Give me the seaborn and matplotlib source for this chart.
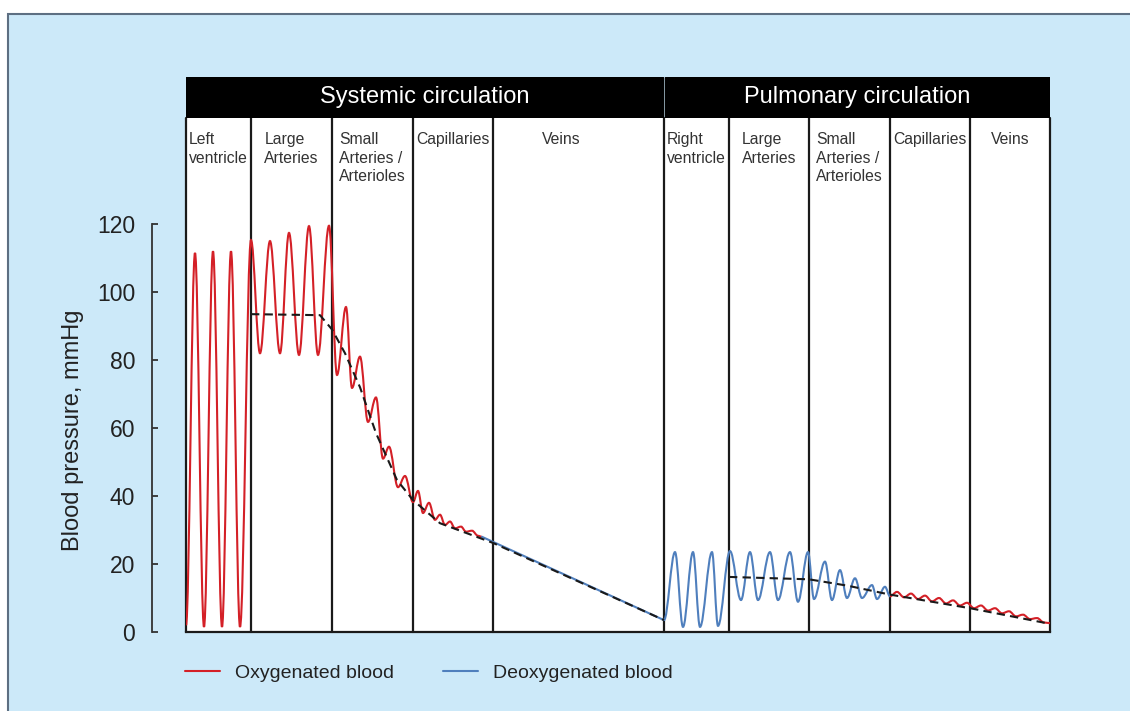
import matplotlib
matplotlib.use('Agg')
import matplotlib.pyplot as plt
import seaborn as sns
import pandas as pd
from matplotlib.path import Path
from matplotlib.patches import PathPatch, Rectangle
from matplotlib.lines import Line2D

# ---- data (position along the circuit, pressure in mmHg) ----
section_edges = [0, 65, 146, 227, 307, 478, 543, 623, 704, 784, 864]
section_names = ['Left\nventricle', 'Large\nArteries', 'Small\nArteries /\nArterioles',
                 'Capillaries', 'Veins', 'Right\nventricle', 'Large\nArteries',
                 'Small\nArteries /\nArterioles', 'Capillaries', 'Veins']
circulations = ['Systemic circulation', 'Pulmonary circulation']

# systemic pressure wave, peaks and troughs (oxygenated)
sys_wave_x = [0, 9, 18, 27, 36, 45, 54, 65, 74, 84, 94, 103, 113, 123, 132, 143,
              151, 160, 166, 174, 182, 190, 197, 203, 212, 219, 227, 232, 237, 243,
              249, 254, 259, 264, 269, 275, 280, 286, 292, 296]
sys_wave_y = [2, 111.5, 1.5, 112, 1.5, 112, 1.5, 115.3, 82, 115, 82, 117.4, 81.5, 119.4, 81.5, 119.5,
              75.6, 95.6, 71.8, 81, 61.8, 69, 51, 54.5, 42.6, 45.9, 38.2, 41.5, 35, 38,
              33, 34.5, 31.5, 32.5, 30.5, 31, 29.5, 29.8, 28.3, 28.0]

# systemic veins (deoxygenated)
sys_vein_x = [296, 478]
sys_vein_y = [28.0, 3.5]

# pulmonary pressure wave (deoxygenated)
pul_wave_x = [478, 489, 497, 507, 514, 526, 532, 544, 555, 564, 572, 584, 592, 604, 612, 622,
              628, 639, 646, 654, 661, 669, 676, 686, 691, 699, 704]
pul_wave_y = [3.5, 23.5, 1.5, 23.5, 1.5, 23.5, 1.8, 23.8, 9.4, 23.5, 9.4, 23.5, 9.4, 23.5, 8.9, 23.5,
              9.7, 20.7, 9.4, 18.2, 10, 15.8, 10, 13.8, 9.7, 13.3, 10.5]

# pulmonary capillaries + veins (oxygenated)
pul_tail_x = [704, 711, 718, 725, 732, 739, 746, 753, 760, 767, 774, 781, 788, 795,
              802, 809, 816, 823, 830, 837, 844, 851, 858, 864]
pul_tail_y = [10.5, 11.8, 10.2, 11.3, 9.7, 10.7, 9.0, 10.0, 8.4, 9.3, 7.8, 8.6, 7.0, 7.8,
              6.3, 7.0, 5.5, 6.1, 4.6, 5.1, 3.8, 4.1, 2.8, 2.6]

# mean pressure (dashed)
sys_mean_x = [65, 134, 146, 159, 174, 190, 211, 227, 254, 307, 478]
sys_mean_y = [93.5, 93.2, 89, 82, 72, 58.5, 44.7, 38.8, 32, 26.2, 3.5]
pul_mean_x = [543, 623, 662, 704, 784, 864]
pul_mean_y = [16.2, 15.5, 13.6, 11.0, 7.0, 2.4]

# ---- style ----
RED = '#d42027'
BLUE = '#4f7fbd'
BG = '#cce9f9'
W, H = 1130, 711

sns.set_theme(style='white')
plt.rcParams['font.family'] = ['Liberation Sans', 'DejaVu Sans']


def wave_path(xs, ys):
    # smooth curve through the extrema (flat tangent at each peak / trough)
    verts = [(xs[0], ys[0])]
    codes = [Path.MOVETO]
    for i in range(1, len(xs)):
        dx = xs[i] - xs[i - 1]
        verts += [(xs[i - 1] + dx * 0.364, ys[i - 1]), (xs[i] - dx * 0.364, ys[i]), (xs[i], ys[i])]
        codes += [Path.CURVE4] * 3
    return Path(verts, codes)


fig = plt.figure(figsize=(W / 100, H / 100), dpi=100, facecolor='white')
fig.patches.append(Rectangle((8 / W, -0.05), 1.1, 1 - 14 / H + 0.05, transform=fig.transFigure,
                             facecolor=BG, edgecolor='#5d6f82', lw=1.5, zorder=-10))

ax = fig.add_axes([186 / W, 79 / H, 864 / W, 514 / H])
ax.set_facecolor('white')
ax.set_xlim(0, 864)
ax.set_ylim(0, 151.2)

for e in section_edges:
    ax.axvline(e, color='#1a1a1a', lw=1.6, zorder=1, clip_on=False)

ax.add_patch(PathPatch(wave_path(sys_wave_x, sys_wave_y), fill=False, edgecolor=RED, lw=1.5, zorder=3))
ax.add_patch(PathPatch(wave_path(pul_wave_x, pul_wave_y), fill=False, edgecolor=BLUE, lw=1.5, zorder=3))
ax.add_patch(PathPatch(wave_path(pul_tail_x, pul_tail_y), fill=False, edgecolor=RED, lw=1.5, zorder=3))
sns.lineplot(x=sys_vein_x, y=sys_vein_y, ax=ax, color=BLUE, lw=1.5, zorder=3)

means = pd.DataFrame({'x': sys_mean_x + pul_mean_x, 'y': sys_mean_y + pul_mean_y,
                      'part': ['sys'] * len(sys_mean_x) + ['pul'] * len(pul_mean_x)})
for part, d in means.groupby('part'):
    sns.lineplot(data=d, x='x', y='y', ax=ax, color='#1a1a1a', lw=1.5, zorder=4,
                 linestyle=(0, (4, 2.5)), sort=False)

# section labels
label_offsets = [0, 0, 0, 0, -17, 0, 0, 0, 0, 0]
label_y = 1 - 14 / 514
for i, name in enumerate(section_names):
    left, right = section_edges[i], section_edges[i + 1]
    if 'ventricle' in name:
        ax.text(left + 3, label_y, name, transform=ax.get_xaxis_transform(), ha='left', va='top',
                fontsize=11.3, color='#333333', linespacing=1.3)
    else:
        ax.text((left + right) / 2 + label_offsets[i], label_y, name, transform=ax.get_xaxis_transform(),
                ha='center', va='top', multialignment='left', fontsize=11.3, color='#333333',
                linespacing=1.3)

# axes styling
ax.set_xticks([])
ax.set_xlabel('')
ax.set_ylabel('')
ax.set_yticks([0, 20, 40, 60, 80, 100, 120])
ax.spines['top'].set_visible(False)
ax.spines['right'].set_visible(False)
ax.spines['bottom'].set_color('#1a1a1a')
ax.spines['bottom'].set_linewidth(1.6)
ax.spines['left'].set_position(('outward', 24.5))
ax.spines['left'].set_bounds(0, 120)
ax.spines['left'].set_color('#333333')
ax.spines['left'].set_linewidth(1.3)
ax.tick_params(axis='y', direction='in', length=4.5, width=1.3, pad=12, labelsize=16.5,
               colors='#333333', labelcolor='#222222', left=True)
fig.text(73 / W, 1 - 430 / H, 'Blood pressure, mmHg', rotation=90, ha='center', va='center',
         fontsize=17, color='#222222')

# header bars
hax = fig.add_axes([186 / W, 1 - 118 / H, 864 / W, 41 / H])
hax.set_xlim(0, 864)
hax.set_ylim(0, 1)
hax.axis('off')
hax.axvspan(section_edges[0], section_edges[5] - 0.8, color='black')
hax.axvspan(section_edges[5] + 0.8, section_edges[-1], color='black')
hax.text((section_edges[0] + section_edges[5]) / 2, 0.5, circulations[0], ha='center', va='center',
         color='white', fontsize=17)
hax.text((section_edges[5] + section_edges[-1]) / 2, 0.5, circulations[1], ha='center', va='center',
         color='white', fontsize=17)

# legend
handles = [Line2D([], [], color=RED, lw=1.5), Line2D([], [], color=BLUE, lw=1.5)]
leg = fig.legend(handles, ['Oxygenated blood', 'Deoxygenated blood'], loc='center left',
                 bbox_to_anchor=(185 / W, 1 - 673 / H), ncol=2, frameon=False, fontsize=14,
                 handlelength=1.8, handletextpad=0.77, columnspacing=2.5, borderaxespad=0, borderpad=0)
for t in leg.get_texts():
    t.set_color('#222222')

fig.savefig('out.png', dpi=100)
